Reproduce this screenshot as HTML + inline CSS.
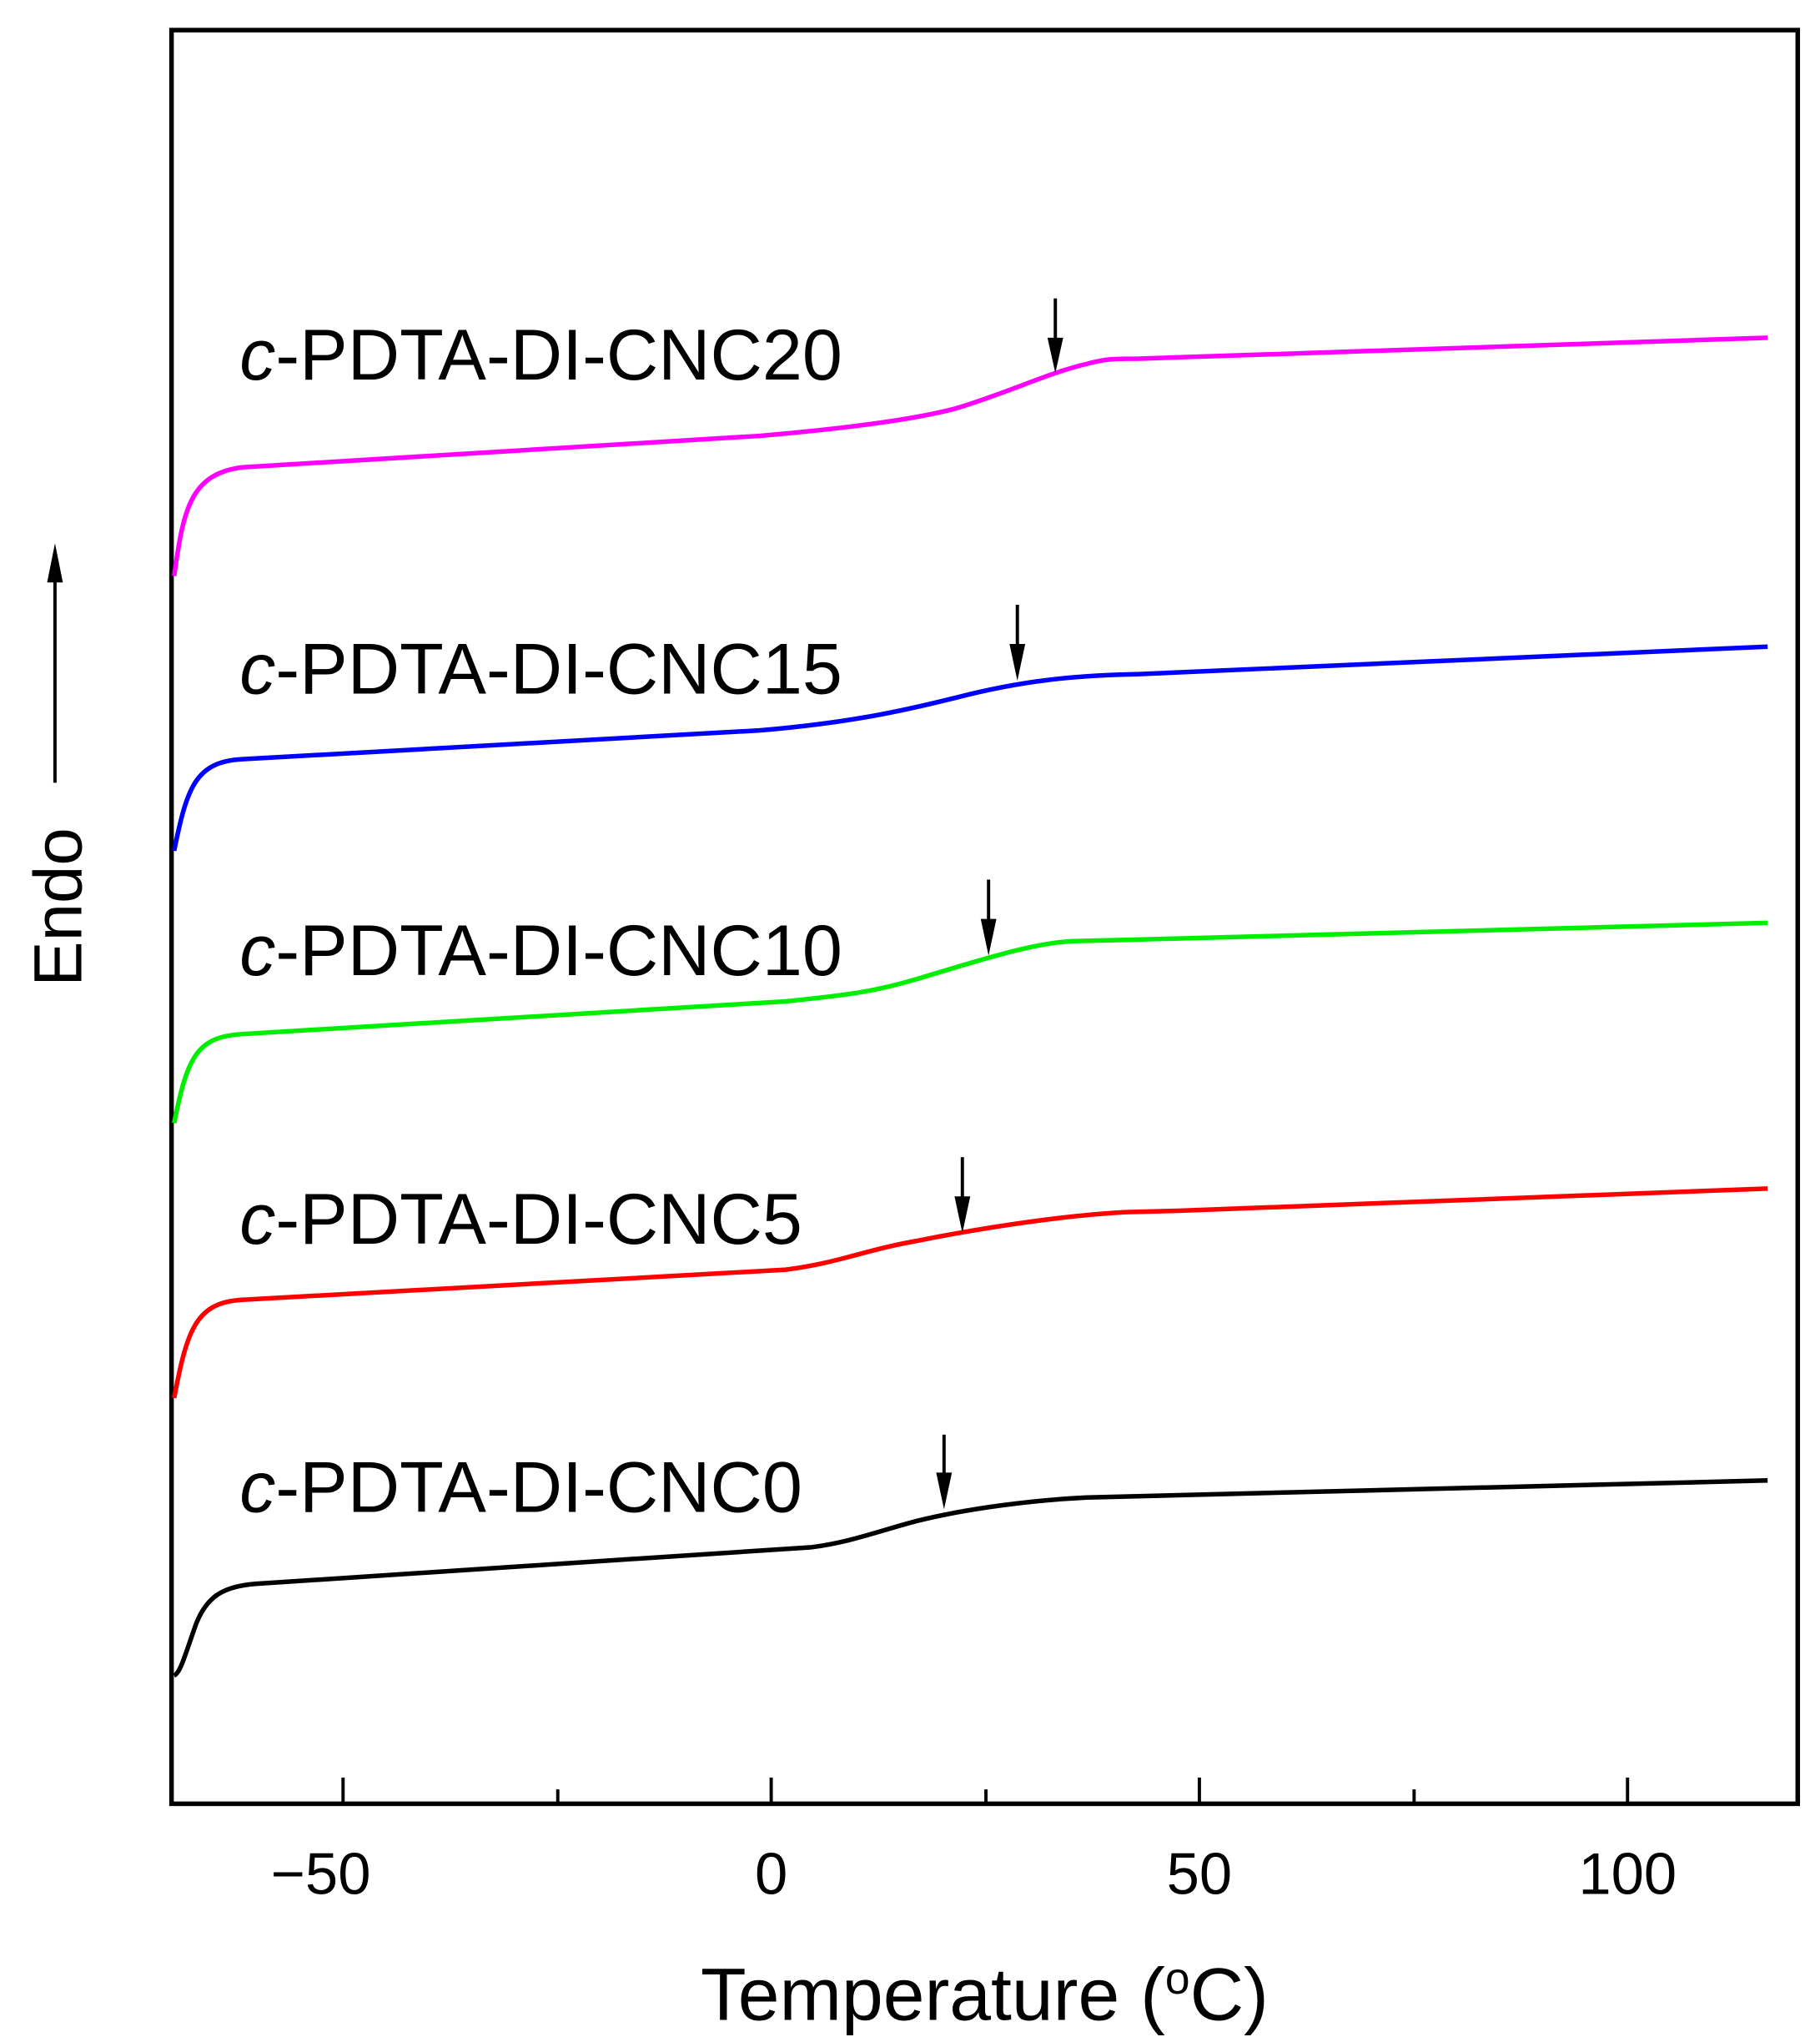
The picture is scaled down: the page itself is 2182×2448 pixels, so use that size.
<!DOCTYPE html>
<html><head><meta charset="utf-8"><style>html,body{margin:0;padding:0;background:#fff}svg{display:block}</style></head>
<body>
<svg width="2182" height="2448" viewBox="0 0 1390 1560" preserveAspectRatio="none" xmlns="http://www.w3.org/2000/svg" font-family="Liberation Sans, sans-serif">
<rect x="131" y="23" width="1242" height="1355" fill="none" stroke="#000" stroke-width="3.5"/>
<g stroke="#000" stroke-width="2.5">
<line x1="262" y1="1378" x2="262" y2="1358"/><line x1="426" y1="1378" x2="426" y2="1367"/>
<line x1="589" y1="1378" x2="589" y2="1358"/><line x1="753" y1="1378" x2="753" y2="1367"/>
<line x1="916" y1="1378" x2="916" y2="1358"/><line x1="1080" y1="1378" x2="1080" y2="1367"/>
<line x1="1243" y1="1378" x2="1243" y2="1358"/>
</g>
<g font-size="45" text-anchor="middle">
<text x="245" y="1447">−50</text><text x="589" y="1447">0</text><text x="916" y="1447">50</text><text x="1243" y="1447">100</text>
</g>
<text x="752" y="1543" font-size="57" text-anchor="middle">Temperature (<tspan dy="-20" font-size="34">o</tspan><tspan dy="20">C)</tspan></text>
<text transform="translate(62,693) rotate(-90)" font-size="52" text-anchor="middle">Endo</text>
<line x1="42" y1="598" x2="42" y2="440" stroke="#000" stroke-width="2.5"/>
<path d="M36,445 L48,445 L42,415 Z" fill="#000"/>
<g fill="none" stroke-width="3.5" stroke-linejoin="round">
<path stroke="#ff00ff" d="M133,440 C140,390 145,362 185,357 L580,333 C650,327 700,320 730,312 C770,300 800,285 830,278 C845,274 850,274 870,274 L1350,258"/>
<path stroke="#0000ff" d="M133,650 C143,600 150,582 185,580 L580,558 C650,552 690,543 730,533 C780,520 820,516 870,515 L1350,494"/>
<path stroke="#00ee00" d="M133,858 C143,808 150,792 185,790 L600,765 C650,760 670,757 700,748 C750,733 790,720 820,719 L860,718 L1350,705"/>
<path stroke="#ff0000" d="M133,1068 C143,1015 150,995 185,993 L600,970 C640,965 660,955 700,948 C760,936 820,928 860,926 L900,925 L1350,908"/>
<path stroke="#000000" d="M133,1280 C138,1278 142,1262 150,1240 C158,1220 170,1212 195,1210 L620,1182 C650,1178 670,1170 700,1162 C740,1152 790,1146 830,1144 L1350,1131"/>
</g>
<g stroke="#000" stroke-width="2.5">
<line x1="806" y1="228" x2="806" y2="262"/>
<line x1="777" y1="462" x2="777" y2="497"/>
<line x1="755" y1="672" x2="755" y2="707"/>
<line x1="735" y1="884" x2="735" y2="919"/>
<line x1="721" y1="1096" x2="721" y2="1130"/>
</g>
<g fill="#000">
<path d="M800,258 L812,258 L806,285 Z"/>
<path d="M771,492 L783,492 L777,520 Z"/>
<path d="M749,702 L761,702 L755,730 Z"/>
<path d="M729,914 L741,914 L735,942 Z"/>
<path d="M715,1125 L727,1125 L721,1153 Z"/>
</g>
<g font-size="55">
<text x="183" y="290"><tspan font-style="italic">c</tspan>-PDTA-DI-CNC20</text>
<text x="183" y="530"><tspan font-style="italic">c</tspan>-PDTA-DI-CNC15</text>
<text x="183" y="745"><tspan font-style="italic">c</tspan>-PDTA-DI-CNC10</text>
<text x="183" y="950"><tspan font-style="italic">c</tspan>-PDTA-DI-CNC5</text>
<text x="183" y="1155"><tspan font-style="italic">c</tspan>-PDTA-DI-CNC0</text>
</g>
</svg>
</body></html>
